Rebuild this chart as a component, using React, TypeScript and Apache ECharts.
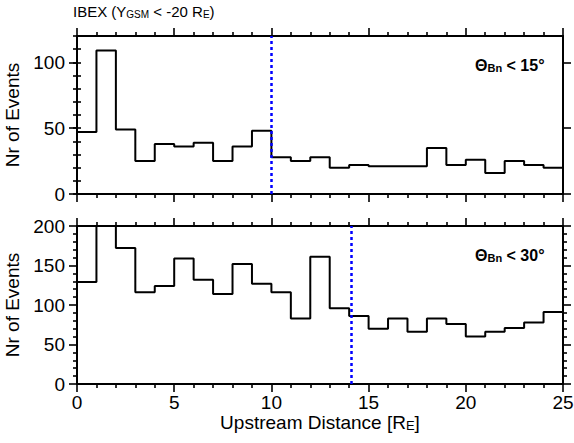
import React, { useEffect, useRef } from 'react';
import * as echarts from 'echarts';

const binStarts = [0, 1, 2, 3, 4, 5, 6, 7, 8, 9, 10, 11, 12, 13, 14, 15, 16, 17, 18, 19, 20, 21, 22, 23, 24];
const binWidth = 1;
const topCounts = [47, 109, 49, 25, 38, 36, 39, 25, 36, 48, 28, 25, 28, 20, 22, 21, 21, 21, 35, 22, 26, 16, 25, 22, 20];
const bottomCounts = [129, 200, 172, 116, 124, 159, 132, 114, 152, 127, 116, 83, 161, 96, 86, 70, 83, 66, 83, 76, 60, 66, 71, 78, 91];
const topYTicks = [0, 50, 100];
const topYMax = 120;
const bottomYMax = 200;
const xMax = 25;
const topMarker = 10;
const bottomMarker = 14.1;

const FONT = '"Liberation Sans", Arial, Helvetica, sans-serif';

function stepData(counts: number[]) {
  const pts = binStarts.map((x, i) => [x, counts[i]]);
  pts.push([binStarts[binStarts.length - 1] + binWidth, counts[counts.length - 1]]);
  return pts;
}

const lineBlack = { color: '#000', width: 2 };
const tickStyle = { color: '#000', width: 1.6 };
const axisLine = { show: true, onZero: false, lineStyle: lineBlack };

function xAxes(gridIndex: number, showLabels: boolean) {
  const base: any = {
    type: 'value',
    gridIndex,
    min: 0,
    max: xMax,
    interval: 5,
    splitLine: { show: false },
    axisLine,
    axisTick: { show: true, length: 8, lineStyle: tickStyle },
    minorTick: { show: true, splitNumber: 5, length: 4, lineStyle: tickStyle },
    minorSplitLine: { show: false },
  };
  return [
    {
      ...base,
      position: 'bottom',
      axisLabel: showLabels
        ? { show: true, color: '#000', fontFamily: FONT, fontSize: 19, margin: 9 }
        : { show: false },
      name: showLabels ? 'Upstream Distance [R{s|E}]' : '',
      nameLocation: 'middle',
      nameGap: 26,
      nameTextStyle: {
        color: '#000',
        fontFamily: FONT,
        fontSize: 19,
        rich: {
          s: { fontFamily: FONT, fontSize: 13, color: '#000', verticalAlign: 'bottom', lineHeight: 10 },
        },
      },
    },
    { ...base, position: 'top', axisLabel: { show: false } },
  ];
}

const yName = {
  name: 'Nr of Events',
  nameLocation: 'middle',
  nameGap: 52,
  nameRotate: 90,
  nameTextStyle: { color: '#000', fontFamily: FONT, fontSize: 19 },
};
const yLabel = { show: true, color: '#000', fontFamily: FONT, fontSize: 19, margin: 12 };

function App() {
  const ref = useRef<HTMLDivElement>(null);
  useEffect(() => {
    if (!ref.current) return;
    const chart = echarts.init(ref.current, undefined, { renderer: 'svg' });
    const grid = [
      { left: 77, width: 486, top: 36, height: 158, outerBoundsMode: 'none', containLabel: false },
      { left: 77, width: 486, top: 226, height: 158, outerBoundsMode: 'none', containLabel: false },
    ];
    const topYBase: any = { type: 'value', gridIndex: 0, min: 0, max: topYMax, interval: 10, splitLine: { show: false } };
    const botYBase: any = {
      type: 'value', gridIndex: 1, min: 0, max: bottomYMax, interval: 50, splitLine: { show: false },
      axisLine, axisTick: { show: true, length: 8, lineStyle: tickStyle },
      minorTick: { show: true, splitNumber: 5, length: 4, lineStyle: tickStyle },
    };
    const yAxis: any[] = [
      {
        ...topYBase, ...yName, position: 'left', axisLine,
        axisTick: { show: true, length: 8, lineStyle: tickStyle, customValues: topYTicks },
        axisLabel: { ...yLabel, customValues: topYTicks },
      },
      {
        ...topYBase, position: 'left', axisLine: { show: false },
        axisTick: { show: true, length: 4, lineStyle: tickStyle }, axisLabel: { show: false },
      },
      {
        ...topYBase, position: 'right', axisLine,
        axisTick: { show: true, length: 8, lineStyle: tickStyle, customValues: topYTicks },
        axisLabel: { show: false },
      },
      {
        ...topYBase, position: 'right', axisLine: { show: false },
        axisTick: { show: true, length: 4, lineStyle: tickStyle }, axisLabel: { show: false },
      },
      { ...botYBase, ...yName, position: 'left', axisLabel: yLabel },
      { ...botYBase, position: 'right', axisLabel: { show: false } },
    ];
    const markLine = (x: number) => ({
      silent: true,
      symbol: 'none',
      label: { show: false },
      lineStyle: { color: '#0000ff', width: 2.5, type: [3, 3] },
      data: [{ xAxis: x }],
    });
    const subRich = (main: number, sub: number, bold: boolean) => ({
      m: { fontFamily: FONT, fontSize: main, fontWeight: bold ? 'bold' : 'normal', color: '#000', verticalAlign: 'bottom', lineHeight: main + 3 },
      s: { fontFamily: FONT, fontSize: sub, fontWeight: bold ? 'bold' : 'normal', color: '#000', verticalAlign: 'bottom', lineHeight: sub - 3 },
    });
    chart.setOption({
      animation: false,
      backgroundColor: '#fff',
      grid,
      xAxis: [...xAxes(0, false), ...xAxes(1, true)],
      yAxis,
      series: [
        {
          type: 'line', xAxisIndex: 0, yAxisIndex: 0, step: 'end', symbol: 'none',
          data: stepData(topCounts), lineStyle: lineBlack, clip: false, markLine: markLine(topMarker),
        },
        {
          type: 'line', xAxisIndex: 2, yAxisIndex: 4, step: 'end', symbol: 'none',
          data: stepData(bottomCounts), lineStyle: lineBlack, clip: false, markLine: markLine(bottomMarker),
        },
      ],
      graphic: [
        {
          type: 'text', left: 73, top: 4,
          style: { text: '{m|IBEX (Y}{s|GSM}{m| < -20 R}{s|E}{m|)}', rich: subRich(15, 10, false) },
        },
        {
          type: 'text', left: 475, top: 57,
          style: { text: '{m|Θ}{s|Bn}{m| < 15°}', rich: subRich(16, 11, true) },
        },
        {
          type: 'text', left: 475, top: 247,
          style: { text: '{m|Θ}{s|Bn}{m| < 30°}', rich: subRich(16, 11, true) },
        },
      ],
    });
    return () => chart.dispose();
  }, []);
  return <div ref={ref} style={{ position: 'fixed', left: 0, top: 0, width: 574, height: 443, background: '#fff' }} />;
}

export default App;
